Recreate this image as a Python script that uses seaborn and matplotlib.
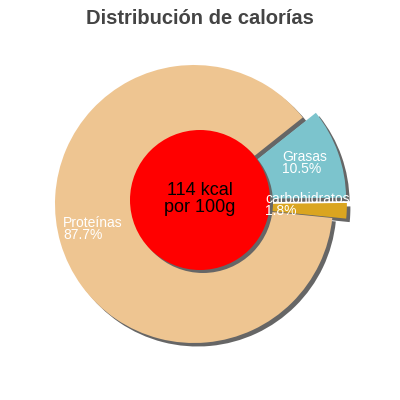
#!/usr/bin/env python3
"""Calorie distribution pie (per 100 g) with a kcal badge in the middle."""

import matplotlib

matplotlib.use("Agg")
import matplotlib.pyplot as plt
import seaborn as sns

# data
categories = ["Grasas", "carbohidratos", "Proteínas"]
percentages = [10.5, 1.8, 87.7]
kcal_total = 114
title_text = "Distribución de calorías"

slice_colors = ["#7cc4cd", "#daa520", "#eec591"]
explode_frac = [0.1, 0.1, 0.0]
label_pos = {  # left edge / vertical centre of each label, in px
    "Grasas": (282, 237),
    "carbohidratos": (265, 195),
    "Proteínas": (63, 171),
}

sns.set_style("white")
plt.rcParams["font.family"] = ["Liberation Sans", "DejaVu Sans"]

PIE_CENTER = (194, 196)
PIE_RADIUS = 139
SHADOW_OFFSET = (3.5, -3.5)
SHADOW_COLOR = "#666666"


def main() -> None:
    fig = plt.figure(figsize=(4, 4), dpi=100)
    ax = fig.add_axes([0, 0, 1, 1])

    # pie's explode is in data units, so scale it by the radius
    pie_kw = dict(
        explode=[e * PIE_RADIUS for e in explode_frac],
        radius=PIE_RADIUS,
        startangle=38.5,
        counterclock=False,
        wedgeprops={"linewidth": 0},
    )
    # shadow first, then the real slices on top
    shadow_center = (PIE_CENTER[0] + SHADOW_OFFSET[0], PIE_CENTER[1] + SHADOW_OFFSET[1])
    ax.pie(percentages, colors=[SHADOW_COLOR] * len(percentages), center=shadow_center, **pie_kw)
    ax.pie(percentages, colors=slice_colors, center=PIE_CENTER, **pie_kw)

    # kcal badge
    badge_center = (200, 200)
    ax.add_patch(plt.Circle((badge_center[0] + 3, badge_center[1] - 3), 70, color=SHADOW_COLOR, lw=0))
    ax.add_patch(plt.Circle(badge_center, 70, color="#ff0000", lw=0))
    ax.text(badge_center[0], badge_center[1] + 1, f"{kcal_total} kcal\npor 100g",
            ha="center", va="center", fontsize=13, color="black", linespacing=0.95)

    for name, pct in zip(categories, percentages):
        x, y = label_pos[name]
        ax.text(x, y, f"{name}\n{pct}%", ha="left", va="center", fontsize=10,
                color="white", linespacing=0.88)

    ax.text(200, 382, title_text, ha="center", va="center", fontsize=14.5,
            fontweight="bold", color="#444444")

    ax.set_xlim(0, 400)
    ax.set_ylim(0, 400)
    ax.set_aspect("equal")
    ax.axis("off")

    fig.savefig("out.png", dpi=100, facecolor="white")
    plt.close(fig)


if __name__ == "__main__":
    main()
